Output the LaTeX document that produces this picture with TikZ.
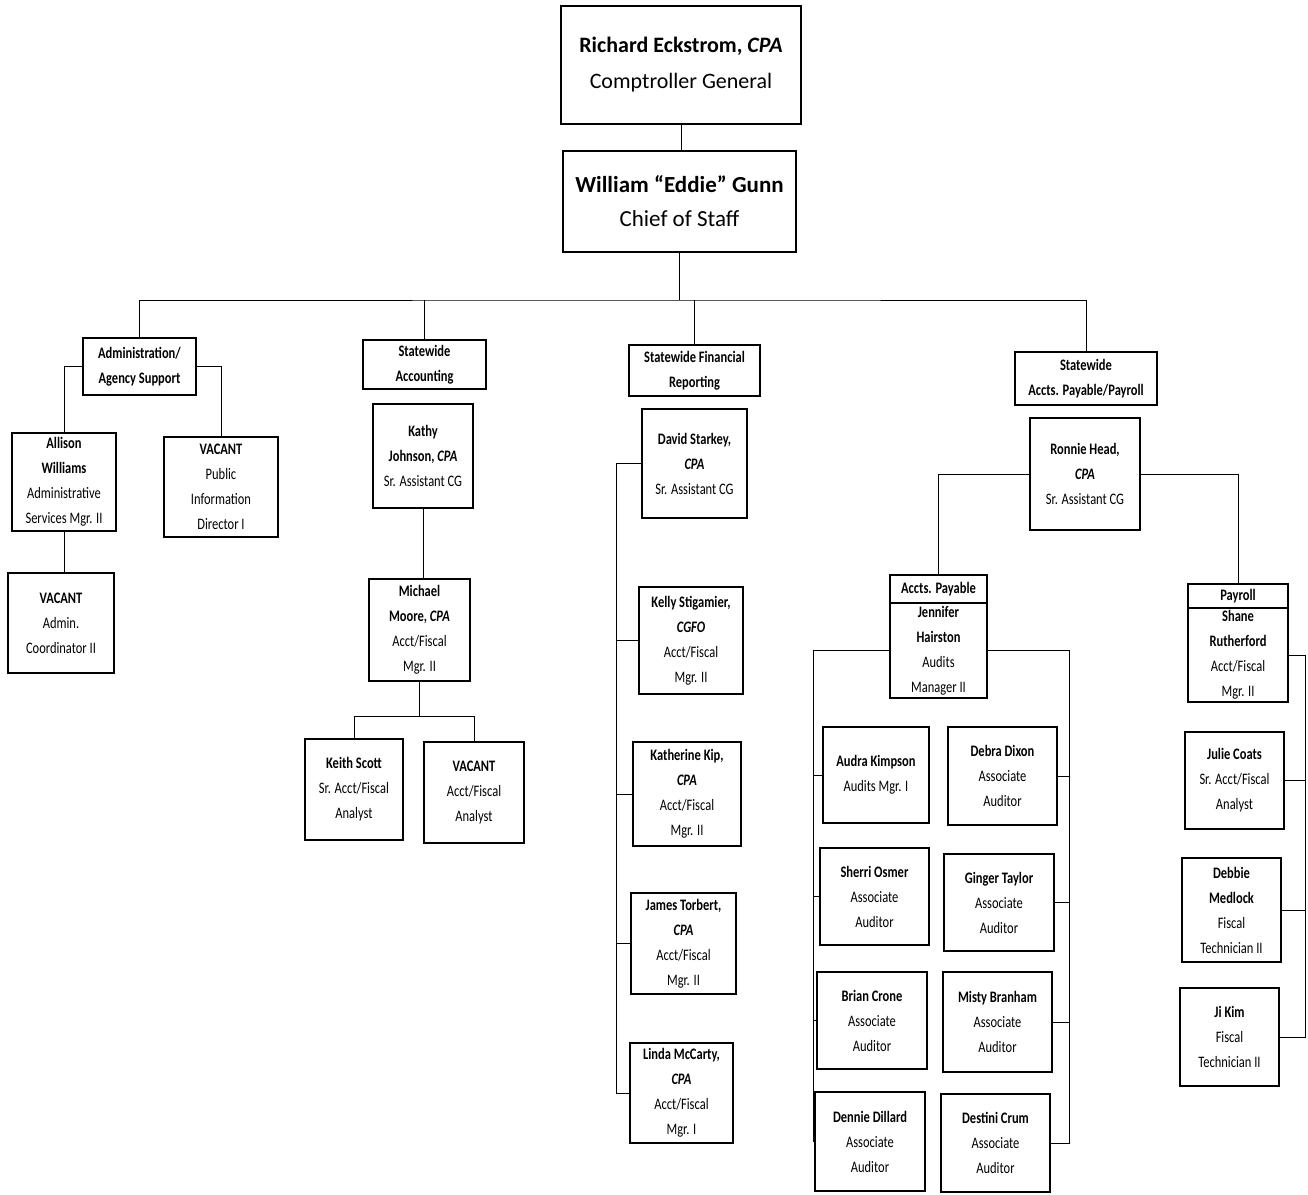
\documentclass[tikz,border=0pt]{standalone}
\usepackage{fontspec}
\setmainfont{Carlito}
\newfontfamily\narrowfont{Carlito}[FakeStretch=0.78]
\tikzset{
  box/.style 2 args={draw, line width=1.8pt, align=center, inner sep=0pt,
    minimum width=#1, minimum height=#2, font=\narrowfont\fontsize{16}{25}\selectfont},
  topbox/.style={font=\fontsize{22}{36}\selectfont},
  link/.style={line width=1pt},
}
\begin{document}
\begin{tikzpicture}[x=1pt,y=-1pt]
\path[use as bounding box, fill=white] (0,0) rectangle (1308,1194);

% Top of the chart
\node[box={240pt}{118pt}, topbox] (cg) at (681,65) {\textbf{Richard Eckstrom, \textit{CPA}}\\Comptroller General};
\node[box={233pt}{101pt}, topbox, font=\fontsize{23}{34}\selectfont] (gunn) at (679.5,201.5) {\textbf{William “Eddie” Gunn}\\Chief of Staff};

% Divisions
\node[box={113pt}{57pt}] (admin) at (139.5,366.5) {\textbf{Administration/}\\\textbf{Agency Support}};
\node[box={123pt}{49pt}] (sa) at (424.5,364.5) {\textbf{Statewide}\\\textbf{Accounting}};
\node[box={131pt}{51pt}] (sfr) at (694.5,370.5) {\textbf{Statewide Financial}\\\textbf{Reporting}};
\node[box={142pt}{53pt}] (sap) at (1086,378.5) {\textbf{Statewide}\\\textbf{Accts. Payable/Payroll}};

% Administration/Agency Support
\node[box={104pt}{98pt}] (allison) at (64,482) {\textbf{Allison}\\\textbf{Williams}\\Administrative\\Services Mgr. II};
\node[box={106pt}{100pt}] (vacad) at (61,623) {\textbf{VACANT}\\Admin.\\Coordinator II};
\node[box={114pt}{100pt}] (vacpi) at (221,487) {\textbf{VACANT}\\Public\\Information\\Director I};

% Statewide Accounting
\node[box={100pt}{104pt}] (kathy) at (423,456) {\textbf{Kathy}\\\textbf{Johnson, \textit{CPA}}\\Sr. Assistant CG};
\node[box={101pt}{102pt}] (michael) at (419.5,630) {\textbf{Michael}\\\textbf{Moore, \textit{CPA}}\\Acct/Fiscal\\Mgr. II};
\node[box={98pt}{101pt}] (keith) at (354,789.5) {\textbf{Keith Scott}\\Sr. Acct/Fiscal\\Analyst};
\node[box={100pt}{101pt}] (vacaa) at (474,792.5) {\textbf{VACANT}\\Acct/Fiscal\\Analyst};

% Statewide Financial Reporting
\node[box={105pt}{109pt}] (david) at (694.5,463.5) {\textbf{David Starkey,}\\\textbf{\textit{CPA}}\\Sr. Assistant CG};
\node[box={104pt}{107pt}] (kelly) at (691,640.5) {\textbf{Kelly Stigamier,}\\\textbf{\textit{CGFO}}\\Acct/Fiscal\\Mgr. II};
\node[box={108pt}{104pt}] (kath) at (687,794) {\textbf{Katherine Kip,}\\\textbf{\textit{CPA}}\\Acct/Fiscal\\Mgr. II};
\node[box={105pt}{101pt}] (james) at (683.5,943.5) {\textbf{James Torbert,}\\\textbf{\textit{CPA}}\\Acct/Fiscal\\Mgr. II};
\node[box={103pt}{100pt}] (linda) at (681.5,1093) {\textbf{Linda McCarty,}\\\textbf{\textit{CPA}}\\Acct/Fiscal\\Mgr. I};

% Statewide Accts. Payable/Payroll
\node[box={110pt}{112pt}] (ronnie) at (1085,474) {\textbf{Ronnie Head,}\\\textbf{\textit{CPA}}\\Sr. Assistant CG};
\node[box={97pt}{28pt}] (aph) at (938.5,589) {\textbf{Accts. Payable}};
\node[box={97pt}{95pt}] (ap) at (938.5,650.5) {\textbf{Jennifer}\\\textbf{Hairston}\\Audits\\Manager II};
\node[box={100pt}{24pt}] (prh) at (1238,596) {\textbf{Payroll}};
\node[box={100pt}{94pt}] (pr) at (1238,655) {\textbf{Shane}\\\textbf{Rutherford}\\Acct/Fiscal\\Mgr. II};

% Accts. Payable staff
\node[box={106pt}{96pt}] (audra) at (876,775) {\textbf{Audra Kimpson}\\Audits Mgr. I};
\node[box={109pt}{97pt}] (sherri) at (874.5,896.5) {\textbf{Sherri Osmer}\\Associate\\Auditor};
\node[box={110pt}{97pt}] (brian) at (872,1020.5) {\textbf{Brian Crone}\\Associate\\Auditor};
\node[box={110pt}{99pt}] (dennie) at (870,1141.5) {\textbf{Dennie Dillard}\\Associate\\Auditor};
\node[box={109pt}{98pt}] (debra) at (1002.5,776) {\textbf{Debra Dixon}\\Associate\\Auditor};
\node[box={110pt}{97pt}] (ginger) at (999,902.5) {\textbf{Ginger Taylor}\\Associate\\Auditor};
\node[box={109pt}{100pt}] (misty) at (997.5,1022) {\textbf{Misty Branham}\\Associate\\Auditor};
\node[box={109pt}{98pt}] (destini) at (995.5,1143) {\textbf{Destini Crum}\\Associate\\Auditor};

% Payroll staff
\node[box={99pt}{97pt}] (julie) at (1234.5,780.5) {\textbf{Julie Coats}\\Sr. Acct/Fiscal\\Analyst};
\node[box={99pt}{104pt}] (debbie) at (1231.5,910) {\textbf{Debbie}\\\textbf{Medlock}\\Fiscal\\Technician II};
\node[box={99pt}{98pt}] (jikim) at (1229.5,1037) {\textbf{Ji Kim}\\Fiscal\\Technician II};

% Connectors
\coordinate (bus) at (679.5,300);
\coordinate (mmbus) at (419.5,716);
\coordinate (sfrL) at (616,463.5);
\coordinate (apL) at (813,650.5);
\coordinate (apR) at (1069,650.5);
\coordinate (prR) at (1305,655);

\draw[link] (cg.south) -- (cg.south |- gunn.north);
\draw[link] (gunn.south) -- (bus);
\draw[link] (admin.north) |- (bus) -| (sap.north);
\draw[link] (sa.north) -- (sa.north |- bus);
\draw[link] (sfr.north) -- (sfr.north |- bus);

\draw[link] (admin.west) -| (allison.north);
\draw[link] (admin.east) -| (vacpi.north);
\draw[link] (allison.south) -- (allison.south |- vacad.north);

\draw[link] (kathy.south) -- (kathy.south |- michael.north);
\draw[link] (michael.south) -- (mmbus);
\draw[link] (keith.north) |- (mmbus) -| (vacaa.north);

\draw[link] (david.west) -- (sfrL) -- (sfrL |- linda.west) -- (linda.west);
\foreach \n in {kelly,kath,james}
  \draw[link] (\n.west) -- (\n.west -| sfrL);

\draw[link] (ronnie.west) -| (aph.north);
\draw[link] (ronnie.east) -| (prh.north);

\draw[link] (ap.west) -- (apL) -- (apL |- dennie.west) -- (dennie.west);
\foreach \n in {audra,sherri,brian}
  \draw[link] (\n.west) -- (\n.west -| apL);
\draw[link] (ap.east) -- (apR) -- (apR |- destini.east) -- (destini.east);
\foreach \n in {debra,ginger,misty}
  \draw[link] (\n.east) -- (\n.east -| apR);

\draw[link] (pr.east) -- (prR) -- (prR |- jikim.east) -- (jikim.east);
\foreach \n in {julie,debbie}
  \draw[link] (\n.east) -- (\n.east -| prR);
\end{tikzpicture}
\end{document}
